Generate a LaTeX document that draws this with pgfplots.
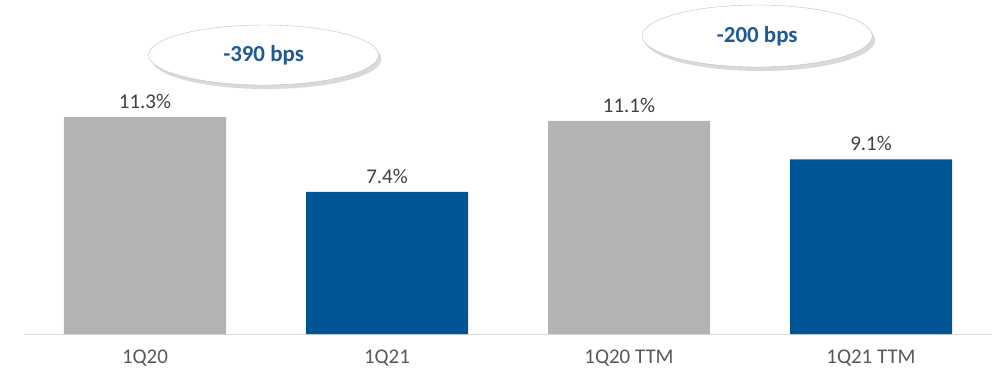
\documentclass[border=0pt]{standalone}
\usepackage{fontspec}
\setmainfont{Carlito}
\usepackage{pgfplots}
\pgfplotsset{compat=1.18}
\usetikzlibrary{shapes.geometric,shadows}
\definecolor{barblue}{HTML}{005596}
\definecolor{bargray}{HTML}{B3B3B3}
\definecolor{txtblue}{HTML}{1F5A96}
\definecolor{ticktxt}{HTML}{595959}
\definecolor{valtxt}{HTML}{404040}
\begin{document}
\begin{tikzpicture}
\begin{axis}[
  at={(24bp,46bp)}, anchor=south west,
  scale only axis, width=968bp, height=288bp,
  xmin=-0.5, xmax=3.5, ymin=0, ymax=15,
  clip=false,
  /pgf/number format/assume math mode=true,
  ybar, bar width=162bp, bar shift=0pt,
  axis y line=none, axis x line*=bottom,
  x axis line style={draw=black!15, line width=1pt, -},
  xtick={0,1,2,3},
  xticklabels={1Q20,1Q21,1Q20 TTM,1Q21 TTM},
  xtick style={draw=none},
  xticklabel style={font=\fontsize{21}{21}\selectfont, text=ticktxt, yshift=-8bp},
  nodes near coords={\pgfmathprintnumber[fixed,precision=1,fixed zerofill]{\pgfplotspointmeta}\%},
  nodes near coords style={font=\fontsize{21}{21}\selectfont, text=valtxt, yshift=5bp},
]
\addplot[fill=bargray, draw=none] coordinates {(0,11.3) (2,11.1)};
\addplot[fill=barblue, draw=none] coordinates {(1,7.4) (3,9.1)};
\node[ellipse, draw=black!25, fill=white, minimum width=230bp, minimum height=60bp,
  drop shadow={opacity=0.3, shadow xshift=3bp, shadow yshift=-4bp},
  font=\bfseries\fontsize{23}{23}\selectfont, text=txtblue] at (axis cs:0.49,14.53) {-390 bps};
\node[ellipse, draw=black!25, fill=white, minimum width=230bp, minimum height=62bp,
  drop shadow={opacity=0.3, shadow xshift=3bp, shadow yshift=-4bp},
  font=\bfseries\fontsize{23}{23}\selectfont, text=txtblue] at (axis cs:2.53,15.52) {-200 bps};
\end{axis}
\pgfresetboundingbox
\path (0,0) rectangle (996bp,380bp);
\end{tikzpicture}
\end{document}
